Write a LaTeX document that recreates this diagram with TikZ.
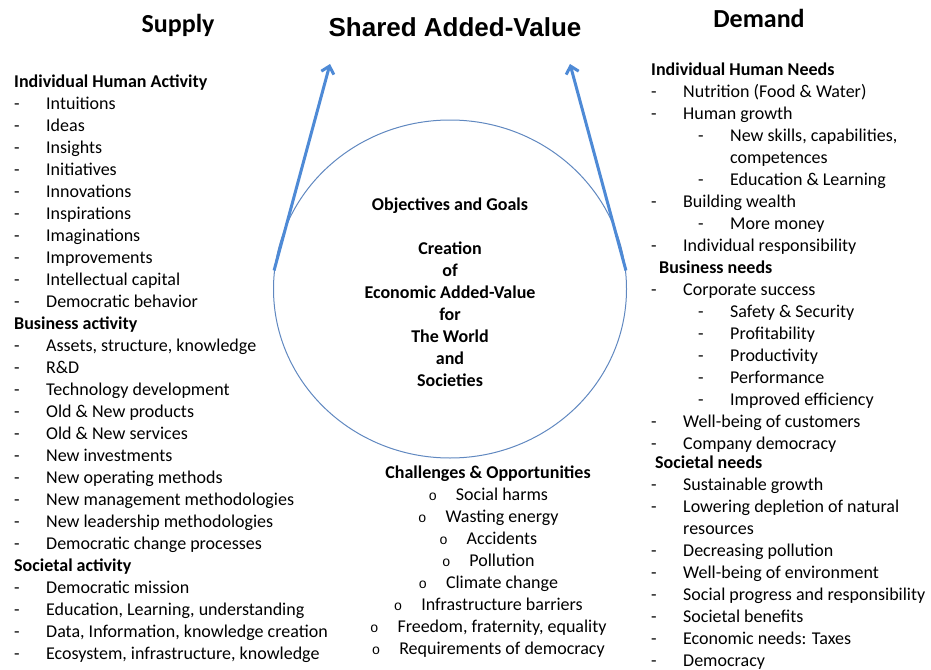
\documentclass[tikz,border=0pt]{standalone}
\usepackage{fontspec}
\setmainfont{Carlito}
\newfontfamily\titlefont{Liberation Sans}
\newfontfamily\bulletfont{Liberation Mono}
\usepackage{tikz}
\usetikzlibrary{shapes.geometric}
\usetikzlibrary{arrows.meta}
\definecolor{circleblue}{RGB}{96,136,192}
\definecolor{arrowblue}{RGB}{78,138,214}
\newcommand{\dashitem}[1]{\makebox[32pt][l]{-}#1}
\newcommand{\subdash}[1]{\hspace*{47pt}\makebox[32pt][l]{-}#1}
\newcommand{\ringitem}[1]{\llap{{\bulletfont\fontsize{14}{22}\selectfont o}\hspace{19pt}}#1}

\begin{document}
\begin{tikzpicture}[x=1pt,y=-1pt,
  txt/.style={font=\fontsize{18}{22}\selectfont, inner sep=0pt, align=left, anchor=base west},
  head/.style={font=\fontsize{26}{30}\selectfont\bfseries, inner sep=0pt, anchor=base},
  arrow/.style={-{Straight Barb[length=7pt,width=13pt]}, draw=arrowblue, line width=3pt}]
  \useasboundingbox (0,0) rectangle (931,669);
  \node[head] (supply) at (178,33) {Supply};
  \node[head, font=\fontsize{26}{30}\selectfont\titlefont\bfseries] (shared) at (455,37) {Shared Added-Value};
  \node[head] (demand) at (759,28) {Demand};
  \node[ellipse, draw=circleblue, line width=1pt, minimum width=353pt, minimum height=338pt,
    inner sep=0pt, align=center, font=\fontsize{18}{22}\selectfont\bfseries] (goals) at (450,289)
    {\rule{0pt}{19pt}Objectives and Goals\\[22pt]Creation\\of\\Economic Added-Value\\for\\The World\\and\\Societies};
  \coordinate (leftTip) at (330,64);
  \coordinate (rightTip) at (570,64);
  \draw[arrow] (goals.174) -- (leftTip);
  \draw[arrow] (goals.6) -- (rightTip);
  % supply side (base = last line)
  \node[txt] (indact) at (14,307) {\textbf{Individual Human Activity}\\
    \dashitem{Intuitions}\\ \dashitem{Ideas}\\ \dashitem{Insights}\\ \dashitem{Initiatives}\\
    \dashitem{Innovations}\\ \dashitem{Inspirations}\\ \dashitem{Imaginations}\\
    \dashitem{Improvements}\\ \dashitem{Intellectual capital}\\ \dashitem{Democratic behavior}};
  \node[txt] (busact) at ([yshift=-242pt]indact.base west) {\textbf{Business activity}\\
    \dashitem{Assets, structure, knowledge}\\ \dashitem{R\&D}\\ \dashitem{Technology development}\\
    \dashitem{Old \& New products}\\ \dashitem{Old \& New services}\\ \dashitem{New investments}\\
    \dashitem{New operating methods}\\ \dashitem{New management methodologies}\\
    \dashitem{New leadership methodologies}\\ \dashitem{Democratic change processes}};
  \node[txt] (socact) at ([yshift=-110pt]busact.base west) {\textbf{Societal activity}\\
    \dashitem{Democratic mission}\\ \dashitem{Education, Learning, understanding}\\
    \dashitem{Data, Information, knowledge creation}\\ \dashitem{Ecosystem, infrastructure, knowledge}};
  % demand side
  \node[txt] (indneed) at (651,251) {\textbf{Individual Human Needs}\\
    \dashitem{Nutrition (Food \& Water)}\\ \dashitem{Human growth}\\
    \subdash{New skills, capabilities,}\\ \hspace*{79pt}competences\\ \subdash{Education \& Learning}\\
    \dashitem{Building wealth}\\ \subdash{More money}\\ \dashitem{Individual responsibility}};
  \node[txt] (busneed) at ([yshift=-198pt]indneed.base west) {\hspace*{8pt}\textbf{Business needs}\\
    \dashitem{Corporate success}\\ \subdash{Safety \& Security}\\ \subdash{Profitability}\\
    \subdash{Productivity}\\ \subdash{Performance}\\ \subdash{Improved efficiency}\\
    \dashitem{Well-being of customers}\\ \dashitem{Company democracy}};
  \node[txt] (socneed) at ([yshift=-217pt]busneed.base west) {\hspace*{4pt}\textbf{Societal needs}\\
    \dashitem{Sustainable growth}\\ \dashitem{Lowering depletion of natural}\\ \hspace*{32pt}resources\\
    \dashitem{Decreasing pollution}\\ \dashitem{Well-being of environment}\\
    \dashitem{Social progress and responsibility}\\ \dashitem{Societal benefits}\\
    \dashitem{Economic needs: Taxes}\\ \dashitem{Democracy}};
  % challenges
  \node[txt, anchor=base] (chal) at (488,478) {\textbf{Challenges \& Opportunities}};
  \node[txt, anchor=base, align=center] (chalitems) at ([xshift=14pt,yshift=-176pt]chal.base)
    {\ringitem{Social harms}\\ \ringitem{Wasting energy}\\ \ringitem{Accidents}\\ \ringitem{Pollution}\\
    \ringitem{Climate change}\\ \ringitem{Infrastructure barriers}\\
    \ringitem{Freedom, fraternity, equality}\\ \ringitem{Requirements of democracy}};
\end{tikzpicture}
\end{document}
